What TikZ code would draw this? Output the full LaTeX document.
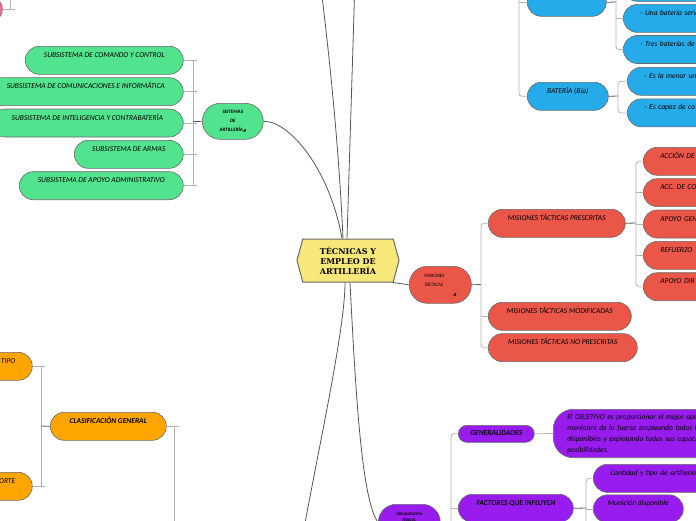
\documentclass[tikz,border=0pt]{standalone}
\usepackage{fontspec}
\setmainfont{Carlito}
\newfontfamily\titlefont{DejaVu Serif}
\newfontfamily\symfont{DejaVu Sans}
\usetikzlibrary{positioning,shapes.symbols}

\definecolor{mapgreen}{RGB}{82,227,142}
\definecolor{mapred}{RGB}{234,86,72}
\definecolor{mapblue}{RGB}{38,171,234}
\definecolor{maporange}{RGB}{255,165,0}
\definecolor{mappurple}{RGB}{152,28,238}
\definecolor{mapyellow}{RGB}{248,232,122}
\definecolor{mappink}{RGB}{240,110,168}
\definecolor{edgegray}{RGB}{105,105,105}
\definecolor{stemgray}{RGB}{85,85,85}
\definecolor{bracegray}{RGB}{178,178,178}

\newcommand{\noteicon}{{\symfont\upshape\fontsize{4}{4}\selectfont ◢}}

\begin{document}
\begin{tikzpicture}[
    x=1pt, y=-1pt,
    font=\itshape\fontsize{7.5}{11}\selectfont,
    node distance=2.75pt,
    topic/.style={draw=edgegray, line width=0.6pt, rounded corners=14pt, inner xsep=0pt, inner ysep=4pt,
        text height=7pt, text depth=13pt, anchor=north west},
    cutright/.style={topic, text width=130pt, align=left, inner xsep=17pt},
    cutleft/.style={topic, text width=60pt, align=right, inner xsep=17pt},
    hub/.style={draw=edgegray, line width=0.6pt, rounded corners=18pt, anchor=north west, inner sep=0pt},
    strong/.style={font=\bfseries\itshape\fontsize{7.5}{11}\selectfont},
    stem/.style={draw=stemgray, line width=0.8pt},
    brace/.style={draw=bracegray, line width=0.8pt},
    elbow/.style={brace, rounded corners=3pt}
]
\useasboundingbox (0,0) rectangle (696,520);
\clip (0,0) rectangle (696,520);

% central topic
\node[shape=signal, signal to=west and east, signal pointer angle=150, draw=edgegray, line width=1pt,
      fill=mapyellow, minimum width=102pt, minimum height=43pt, inner sep=1pt, align=center,
      font=\titlefont\bfseries\fontsize{8}{10}\selectfont] (root) at (348,260.5) {TÉCNICAS Y\\EMPLEO DE\\ARTILLERÍA};

% sistemas de artilleria
\node[hub, fill=mapgreen, minimum width=61pt, minimum height=36pt, align=center,
      font=\bfseries\itshape\fontsize{5}{9}\selectfont] (sys) at (202,103) {SISTEMAS\\DE\\ARTILLERÍA\noteicon};
\node[topic, fill=mapgreen, minimum width=158pt] (g1) at (25,46) {SUBSISTEMA DE COMANDO Y CONTROL};
\node[topic, fill=mapgreen, minimum width=195pt, below=of g1.south east, anchor=north east] (g2) {SUBSISTEMA DE COMUNICACIONES E INFORMÁTICA};
\node[topic, fill=mapgreen, minimum width=192pt, below=of g2.south east, anchor=north east] (g3) {SUBSISTEMA DE INTELIGENCIA Y CONTRABATERÍA};
\node[topic, fill=mapgreen, minimum width=109pt, below=of g3.south east, anchor=north east] (g4) {SUBSISTEMA DE ARMAS};
\node[topic, fill=mapgreen, minimum width=164pt, below=of g4.south east, anchor=north east] (g5) {SUBSISTEMA DE APOYO ADMINISTRATIVO};

\coordinate (gk) at (193,121.5);
\foreach \g in {g1,g2,g3,g4,g5}
  \draw[brace] (\g.east) -- ++(13,0);
\draw[brace] (g1.east -| gk) -- (g5.east -| gk);
\draw[stem] (sys.west) -- (gk);

% pink branch, cut at the corner
\node[topic, fill=mappink, minimum width=62pt] (pink) at (-60,-5) {};
\coordinate (pk) at (10,-20);
\draw[brace] (pink.east) -- ++(12,0);
\draw[brace] (pk) -- (pk |- pink.east);

% misiones tacticas
\node[hub, fill=mapred, minimum width=62pt, minimum height=37pt, text width=32pt, align=left,
      font=\itshape\fontsize{5}{9}\selectfont] (mis) at (409,266) {MISIONES\\TÁCTICAS\\\hfill\noteicon};
\node[topic, fill=mapred, minimum width=137pt] (mtp) at (488,209) {MISIONES TÁCTICAS PRESCRITAS};
\node[topic, fill=mapred, minimum width=143pt] (mtm) at (488,302) {MISIONES TÁCTICAS MODIFICADAS};
\node[topic, fill=mapred, minimum width=149pt, below=of mtm.south west, anchor=north west] (mtnp) {MISIONES TÁCTICAS NO PRESCRITAS};
\node[cutright, fill=mapred] (r1) at (643,147) {ACCIÓN DE};
\node[cutright, fill=mapred, below=of r1.south west, anchor=north west] (r2) {ACC. DE CO};
\node[cutright, fill=mapred, below=of r2.south west, anchor=north west] (r3) {APOYO GEN};
\node[cutright, fill=mapred, below=of r3.south west, anchor=north west] (r4) {REFUERZO};
\node[cutright, fill=mapred, below=of r4.south west, anchor=north west] (r5) {APOYO DIR};

\coordinate (mk) at (481,284.5);
\draw[stem] (mis.east) -- (mk);
\draw[elbow] (mtp.west) -| (mk) |- (mtnp.west);
\draw[brace] (mtm.west) -- (mtm.west -| mk);
\coordinate (rk) at (636,223);
\draw[stem] (mtp.east) -- (rk);
\draw[elbow] (r1.west) -| (rk) |- (r5.west);
\foreach \r in {r2,r3,r4}
  \draw[brace] (\r.west) -- (\r.west -| rk);

% baterias
\node[topic, fill=mapblue, minimum width=79pt] (bde) at (527,-12) {};
\node[topic, fill=mapblue, minimum width=81pt] (bat) at (527,82) {BATERÍA (Bía)};
\coordinate (bk) at (519,-30);
\draw[elbow] (bk) |- (bat.west);
\draw[brace] (bde.west) -- (bde.west -| bk);
\node[cutright, fill=mapblue] (b0) at (623,-27) {};
\node[cutright, fill=mapblue, below=2.5pt of b0.south west, anchor=north west] (b1) {- Una batería serv};
\node[cutright, fill=mapblue, below=2.5pt of b1.south west, anchor=north west] (b2) {- Tres baterías de};
\coordinate (ak) at (616,2);
\draw[stem] (bde.east) -- (ak);
\draw[elbow] (b0.west) -| (ak) |- (b2.west);
\draw[brace] (b1.west) -- (b1.west -| ak);
\node[cutright, fill=mapblue] (c1) at (627,67) {- Es la menor uni};
\node[cutright, fill=mapblue, below=3pt of c1.south west, anchor=north west] (c2) {- Es capaz de co};
\coordinate (ck) at (618,96);
\draw[stem] (bat.east) -- (ck);
\draw[elbow] (c1.west) -| (ck) |- (c2.west);

% clasificacion
\node[cutleft, fill=maporange] (tipo) at (-62,352) {TIPO};
\node[cutleft, fill=maporange] (orte) at (-62,472) {ORTE};
\node[topic, fill=maporange, minimum width=116pt, strong] (cg) at (50,412) {CLASIFICACIÓN GENERAL};
\coordinate (ok) at (41,426);
\draw[brace] (tipo.east) -- ++(12,0);
\draw[brace] (orte.east) -- ++(12,0);
\draw[brace] (tipo.east -| ok) -- (orte.east -| ok);
\draw[stem] (ok) -- (cg.west);
\coordinate (clk) at (174,560);
\draw[brace] (cg.east) -- ++(12,0);
\draw[brace] (cg.east -| clk) -- (clk);

% organizacion
\node[hub, fill=mappurple, minimum width=62pt, minimum height=36pt, align=center,
      font=\bfseries\itshape\fontsize{4}{5.5}\selectfont] (org) at (378,504) {ORGANIZACIÓN\\PARA EL\\~\\~};
\node[topic, fill=mappurple, minimum width=76pt, text height=5pt, text depth=2pt, inner ysep=5pt,
      rounded corners=8.5pt, strong] (gen) at (458,425) {GENERALIDADES};
\node[draw=edgegray, line width=0.6pt, rounded corners=20pt, fill=mappurple, text width=150pt, align=left,
      inner xsep=14pt, inner ysep=4.5pt, anchor=north west] (obj) at (553,409)
      {El OBJETIVO es proporcionar el mejor apoy\\maniobra de la fuerza empleando todos los\\disponibles y explotando todas sus capacida\\posibilidades.};
\node[topic, fill=mappurple, minimum width=115pt, strong] (fac) at (458,494) {FACTORES QUE INFLUYEN};
\node[cutright, fill=mappurple] (cant) at (593,464) {Cantidad y tipo de artillería d};
\node[topic, fill=mappurple, minimum width=90pt, below=2pt of cant.south west, anchor=north west] (mun) {Munición disponible};

\coordinate (ek) at (451,522);
\coordinate (eend) at (451,560);
\draw[stem] (org.east) -- (ek);
\draw[elbow] (gen.west) -| (eend);
\draw[brace] (fac.west) -- (fac.west -| ek);
\draw[brace] (gen.east) -- (obj.west);
\coordinate (fk) at (586,508);
\coordinate (fend) at (586,560);
\draw[stem] (fac.east) -- (fk);
\draw[elbow] (cant.west) -| (fend);
\draw[brace] (mun.west) -- (mun.west -| fk);

% links from the central topic
\coordinate (upl) at (320,-20);
\coordinate (upr) at (355,-20);
\coordinate (downl) at (301,545);
\draw[stem] ([xshift=-5pt]root.north) .. controls (339,150) and (330,60) .. (upl);
\draw[stem] ([xshift=-1pt]root.north) -- (upr);
\draw[stem] (sys.east) .. controls (290,121) and (330,170) .. ([xshift=-6pt]root.north);
\draw[stem] ([xshift=45pt]root.south) -- (mis.west);
\draw[stem] ([xshift=-3pt]root.south) .. controls (345,330) and (318,450) .. (downl);
\draw[stem] ([xshift=2pt]root.south) .. controls (356,400) and (362,500) .. (org.west);
\end{tikzpicture}
\end{document}
